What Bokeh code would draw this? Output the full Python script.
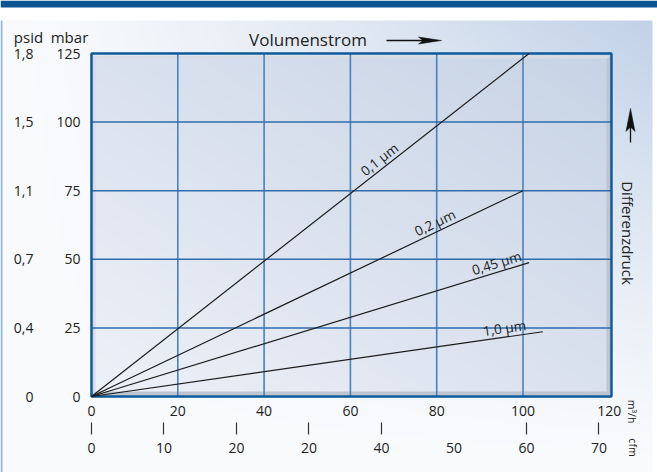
import numpy as np
from bokeh.plotting import figure
from bokeh.models import Range1d, FixedTicker, LinearAxis
from bokeh.core.properties import value
from bokeh.embed import file_html
from bokeh.resources import INLINE

# ---------------- data ----------------
m3h_ticks = [0, 20, 40, 60, 80, 100, 120]
mbar_ticks = [0, 25, 50, 75, 100, 125]
psid_labels = ["0", "0,4", "0,7", "1,1", "1,5", "1,8"]
cfm_ticks = [0, 10, 20, 30, 40, 50, 60, 70]
cfm_labels = ["0", "10", "20", "20", "40", "50", "60", "70"]
cfm_marked = [0, 10, 20, 30, 40, 60, 70]
filters = ["0,1 µm", "0,2 µm", "0,45 µm", "1,0 µm"]
flow_end = [101.4, 100.0, 101.4, 104.6]
dp_end = [125.0, 75.0, 48.8, 23.6]
label_flow = [68.0, 80.5, 94.5, 96.0]
CFM_TO_M3H = 1.68

# ---------------- geometry ----------------
W_PX, H_PX = 657, 472
X0_PX, PX_PER_X = 91.0, 4.315
Y0_PX, PX_PER_Y = 396.0, 2.744
X_MAX, Y_MAX = 120.5, 125.0
FONT = "Open Sans"
TXT = "#222222"


def dx(px):  # canvas pixel -> data x
    return (px - X0_PX) / PX_PER_X


def dy(py):  # canvas pixel -> data y
    return (Y0_PX - py) / PX_PER_Y


p = figure(width=W_PX, height=H_PX, output_backend="svg", toolbar_location=None, tools="",
           x_range=Range1d(dx(0), dx(W_PX)), y_range=Range1d(dy(H_PX), dy(0)),
           min_border=0, title=None)
p.outline_line_color = None
p.border_fill_color = "white"
p.background_fill_color = "white"
p.xgrid.visible = False
p.ygrid.visible = False

# ---------------- background picture (panel, band, plot box with bevel) ----------------
yy, xx = np.mgrid[0:H_PX, 0:W_PX].astype(float)
xc, yc = xx + 0.5, yy + 0.5
rgb = np.full((H_PX, W_PX, 3), 255.0)
u = np.clip(xc / 652.0, 0, 1)
v = np.clip((yc - 20) / 452.0, 0, 1)
tp = np.clip(u * (1 - v), 0, 1) ** 1.25
light = np.array([250, 251, 253])
dark = np.array([193, 209, 231])
panel = light + (dark - light) * tp[..., None]
m = (xx >= 2) & (xx < 652) & (yy >= 20)
rgb[m] = panel[m]
rgb[(xx < 2) & (yy >= 20)] = [143, 181, 219]
rgb[yy < 7] = [11, 85, 146]

L, R, T, B = 92, 610, 55, 395
ins = (xx >= L) & (xx < R) & (yy >= T) & (yy < B)
ui = (xc - L) / (R - L)
vi = (B - yc) / (B - T)
ti = (ui + vi) / 2
c0 = np.array([238, 241, 248])
c1 = np.array([199, 211, 229])
interior = c0 + (c1 - c0) * ti[..., None]
rgb[ins] = interior[ins]
dl, dt, dr, db = xc - L, yc - T, R - xc, B - yc
rl = np.minimum(dl, dt) / 3.0
rd = np.minimum(dr, db) / 4.0
rgb[ins & (rl < 1) & (rl <= rd)] = [214, 219, 228]
rgb[ins & (rd < 1) & (rd < rl)] = [190, 197, 209]

rgb = rgb[::-1]
img = np.empty((H_PX, W_PX), dtype=np.uint32)
view = img.view(dtype=np.uint8).reshape((H_PX, W_PX, 4))
view[..., :3] = np.clip(rgb, 0, 255).astype(np.uint8)
view[..., 3] = 255
p.image_rgba(image=[img], x=dx(0), y=dy(H_PX), dw=dx(W_PX) - dx(0), dh=dy(0) - dy(H_PX),
             level="image")

# ---------------- grid ----------------
gx = m3h_ticks[1:-1]
gy = mbar_ticks[1:-1]
p.segment(x0=gx, y0=[0] * len(gx), x1=gx, y1=[Y_MAX] * len(gx),
          line_color="#4a82bd", line_width=1.6)
p.segment(x0=[0] * len(gy), y0=gy, x1=[X_MAX] * len(gy), y1=gy,
          line_color="#2f6cab", line_width=1.5)
p.quad(left=[0], right=[X_MAX], bottom=[0], top=[Y_MAX], fill_color=None,
       line_color="#0d5a9b", line_width=2.5)

# ---------------- filter lines ----------------
xs = [[0, fe] for fe in flow_end]
ys = [[0, de] for de in dp_end]
p.multi_line(xs, ys, line_color="#1b1b1b", line_width=1.2)

ly = [f * de / fe for f, de, fe in zip(label_flow, dp_end, flow_end)]
ang = [float(np.arctan((de / fe) * PX_PER_Y / PX_PER_X)) for de, fe in zip(dp_end, flow_end)]
p.text(x=label_flow, y=ly, text=filters, angle=ang, text_font=value(FONT),
       text_font_size="13.5px", text_align="center", text_baseline="bottom",
       text_color="#1b1b1b")


# ---------------- axes ----------------
def style_axis(ax):
    ax.axis_line_color = None
    ax.major_tick_line_color = None
    ax.minor_tick_line_color = None
    ax.major_tick_in = 0
    ax.major_tick_out = 0
    ax.minor_tick_in = 0
    ax.minor_tick_out = 0
    ax.major_label_text_font = FONT
    ax.major_label_text_font_size = "14px"
    ax.major_label_text_color = TXT


ymb = p.yaxis[0]
ymb.fixed_location = 0
ymb.ticker = FixedTicker(ticks=mbar_ticks)
style_axis(ymb)
ymb.major_label_standoff = 11

yps = LinearAxis(fixed_location=0, ticker=FixedTicker(ticks=mbar_ticks),
                 major_label_overrides={k: s for k, s in zip(mbar_ticks, psid_labels)})
style_axis(yps)
yps.major_label_standoff = 58
p.add_layout(yps, "left")

xm = p.xaxis[0]
xm.fixed_location = 0
xm.ticker = FixedTicker(ticks=m3h_ticks)
style_axis(xm)
xm.major_label_standoff = 9

p.extra_x_ranges = {"cfm": Range1d(dx(0) / CFM_TO_M3H, dx(W_PX) / CFM_TO_M3H)}
xc_ax = LinearAxis(x_range_name="cfm", fixed_location=dy(422),
                   ticker=FixedTicker(ticks=cfm_ticks, minor_ticks=cfm_marked),
                   major_label_overrides={k: s for k, s in zip(cfm_ticks, cfm_labels)})
style_axis(xc_ax)
xc_ax.major_tick_out = 12
xc_ax.minor_tick_out = 12
xc_ax.minor_tick_line_color = "#333333"
xc_ax.minor_tick_line_width = 1.2
xc_ax.major_label_standoff = 8
p.add_layout(xc_ax, "below")

# ---------------- texts and arrows ----------------
p.text(x=[dx(28), dx(69)], y=[dy(36.5), dy(36.5)], text=["psid", "mbar"], text_font=value(FONT),
       text_font_size="15px", text_align="center", text_baseline="middle", text_color=TXT)
p.text(x=[dx(307.5)], y=[dy(39)], text=["Volumenstrom"], text_font=value(FONT),
       text_font_size="17px", text_align="center", text_baseline="middle", text_color=TXT)
p.text(x=[dx(627.5)], y=[dy(232.5)], text=["Differenzdruck"], angle=-np.pi / 2,
       text_font=value(FONT), text_font_size="15px", text_align="center",
       text_baseline="middle", text_color=TXT)
p.text(x=[dx(631), dx(632)], y=[dy(411), dy(447)], text=["m³/h", "cfm"], angle=-np.pi / 2,
       text_font=value(FONT), text_font_size="10.5px", text_align="center",
       text_baseline="middle", text_color=TXT)

ARROW = "#111111"
p.line(x=[dx(386), dx(425)], y=[dy(40), dy(40)], line_color=ARROW, line_width=1.3)
p.patch(x=[dx(441), dx(418), dx(422.5), dx(418)], y=[dy(40), dy(36.5), dy(40), dy(43.5)],
        fill_color=ARROW, line_color=ARROW, line_width=0.5)
p.line(x=[dx(630), dx(630)], y=[dy(142), dy(125)], line_color=ARROW, line_width=1.3)
p.patch(x=[dx(630), dx(625.5), dx(630), dx(634.5)], y=[dy(108), dy(131), dy(126.5), dy(131)],
        fill_color=ARROW, line_color=ARROW, line_width=0.5)

open("out.html", "w").write(file_html(p, INLINE))
